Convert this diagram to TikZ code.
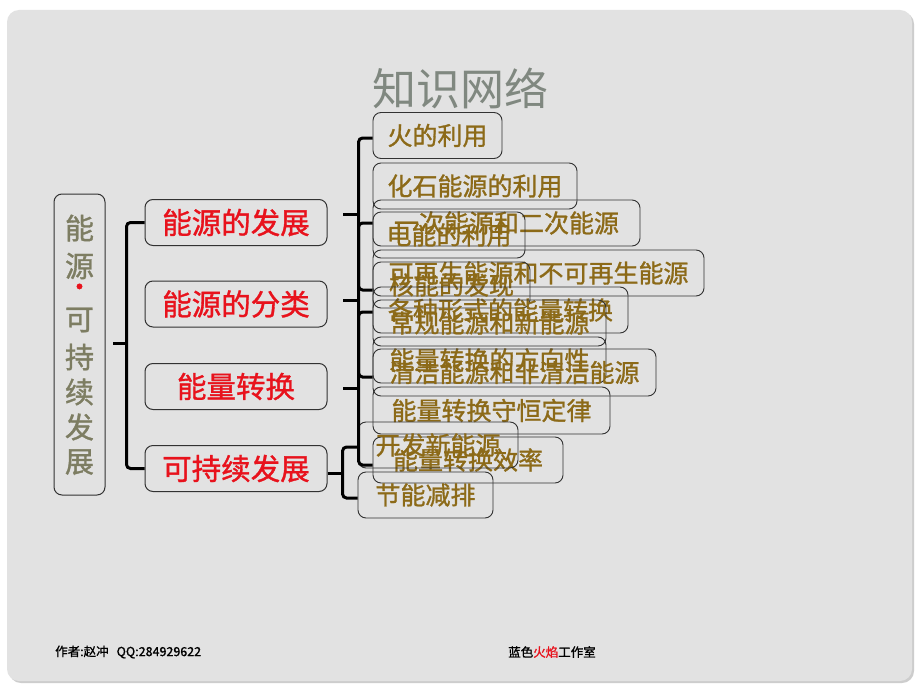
\documentclass[tikz,border=0pt]{standalone}
\usepackage{fontspec}
\setmainfont{Noto Sans CJK SC}
\newfontfamily\cjk{Noto Sans CJK SC}
\newfontfamily\cjkb{Noto Sans CJK SC}[FakeBold=1.2]
\definecolor{pagebg}{RGB}{226,226,226}
\definecolor{shadowc}{RGB}{205,205,205}
\definecolor{boxline}{RGB}{50,50,50}
\definecolor{lvred}{RGB}{232,18,28}
\definecolor{lvbrown}{RGB}{140,106,24}
\definecolor{leftgray}{RGB}{125,125,98}
\definecolor{titlegray}{RGB}{128,136,128}
\tikzset{
  rootbox/.style={draw=boxline, rounded corners=8pt, line width=1pt, inner sep=0pt,
    minimum width=51pt, minimum height=301pt},
  rootchar/.style={text=leftgray, font=\cjkb\fontsize{29}{29}\selectfont, inner sep=0pt},
  secbox/.style={draw=boxline, rounded corners=8pt, line width=1pt, inner sep=0pt,
    minimum width=182pt, minimum height=46pt, text=lvred,
    font=\cjkb\fontsize{29.5}{29.5}\selectfont},
  leafbox/.style={draw=boxline, rounded corners=8pt, line width=0.9pt, inner sep=0pt,
    minimum height=46pt, text=lvbrown, font=\cjkb\fontsize{25}{25}\selectfont},
  brace/.style={draw=black, line width=3pt, rounded corners=4pt},
  foot/.style={font=\cjkb\fontsize{12.5}{12.5}\selectfont, text=black, inner sep=0pt}
}
\begin{document}
\begin{tikzpicture}[x=1pt,y=-1pt]
\useasboundingbox (0,0) rectangle (920,690);
\fill[white] (0,0) rectangle (920,690);
\fill[shadowc, rounded corners=12pt] (9,12) rectangle (914,683);
\fill[pagebg, rounded corners=12pt] (7,10) rectangle (912,681);

% title
\node[font=\cjk\fontsize{44}{44}\selectfont, text=titlegray] (title) at (460,88) {知识网络};

% root
\node[rootbox] (root) at (79.5,344.5) {};
\node[rootchar] (v1) at (79.5,228) {能};
\node[rootchar] (v2) at (79.5,266) {源};
\node[text=lvred, font=\cjkb\fontsize{26}{26}\selectfont, inner sep=0pt] (v3) at (79.5,290) {·};
\node[rootchar] (v4) at (79.5,320) {可};
\node[rootchar] (v5) at (79.5,357) {持};
\node[rootchar] (v6) at (79.5,392) {续};
\node[rootchar] (v7) at (79.5,427) {发};
\node[rootchar] (v8) at (79.5,462) {展};

% second level
\node[secbox] (sa) at (236,222.5) {能源的发展};
\node[secbox] (sb) at (236,304) {能源的分类};
\node[secbox] (sc) at (236,386.5) {能量转换};
\node[secbox] (sd) at (236,468.5) {可持续发展};

% leaves
\node[leafbox, minimum width=129pt] (c1) at (437.5,135.5) {火的利用};
\node[leafbox, minimum width=204pt] (c2) at (475,186) {化石能源的利用};
\node[leafbox, minimum width=267pt] (c3) at (506.5,223) {一次能源和二次能源};
\node[leafbox, minimum width=152pt] (c4) at (449,235) {电能的利用};
\node[leafbox, minimum width=331pt] (c5) at (538.5,273) {可再生能源和不可再生能源};
\node[leafbox, minimum width=157pt] (c6) at (451.5,285) {核能的发现};
\node[leafbox, minimum width=255pt] (c7) at (500.5,310) {各种形式的能量转换};
\node[leafbox, minimum width=233pt] (c8) at (489.5,323) {常规能源和新能源};
\node[leafbox, minimum width=233pt] (c9) at (489.5,360) {能量转换的方向性};
\node[leafbox, minimum width=283pt, minimum height=47pt] (c10) at (514.5,372.5) {清洁能源和非清洁能源};
\node[leafbox, minimum width=237pt, minimum height=47pt] (c11) at (491.5,410.5) {能量转换守恒定律};
\node[leafbox, minimum width=190pt] (c12) at (468,460) {能量转换效率};
\node[leafbox, minimum width=160pt] (c13) at (438,445) {开发新能源};
\node[leafbox, minimum width=135pt] (c14) at (425.5,495) {节能减排};

% main brace
\coordinate (rm) at (113,343);
\draw[brace] (sa.west) -- ++(-18,0) |- (sd.west);
\draw[brace] (rm) -- ++(14,0);

% brace A
\coordinate (am) at (343,214);
\draw[brace] ([yshift=-2.5pt]c1.west) -- ++(-14,0) |- ([yshift=-5pt]c6.west);
\draw[brace] (am) -- ++(15,0);
% brace B
\coordinate (bm) at (343,300);
\draw[brace] (c3.west) -- ++(-14,0) |- ([yshift=-4.5pt]c10.west);
\draw[brace] (bm) -- ++(15,0);
% brace C
\coordinate (cm) at (343,388);
\draw[brace] ([yshift=-2pt]c7.west) -- ++(-14,0) |- ([yshift=-5pt]c12.west);
\draw[brace] (cm) -- ++(15,0);
% brace D
\draw[brace] ([yshift=-2pt]c13.west) -- ++(-15,0) |- ([yshift=-3pt]c14.west);
\draw[brace] ([yshift=-4.5pt]sd.east) -- ++(16,0);

% footer
\node[foot, anchor=west] (f1) at (55,652) {作者:赵冲\hspace{8pt}QQ:284929622};
\node[foot] (f2) at (552,652) {蓝色{\color{lvred}火焰}工作室};
\end{tikzpicture}
\end{document}
